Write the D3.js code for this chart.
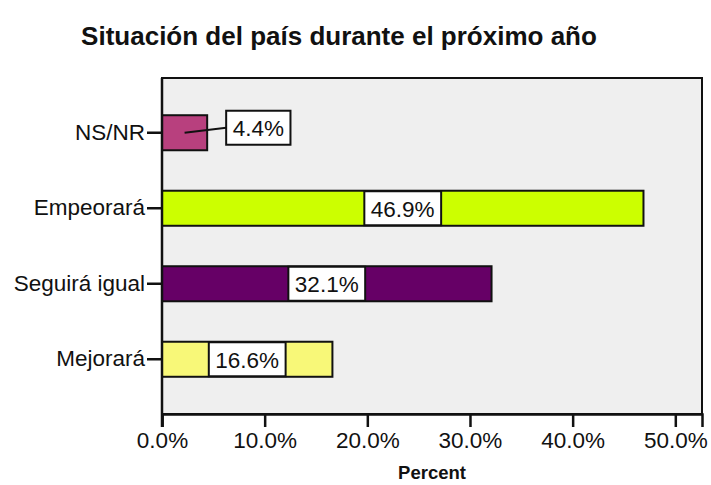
<!DOCTYPE html>
<html><head><meta charset="utf-8">
<script src="https://cdn.jsdelivr.net/npm/d3@7"></script>
<style>body{margin:0;background:#fff;} svg{display:block;font-family:"Liberation Sans",Arial,sans-serif;}</style>
</head><body>
<svg id="c" width="711" height="485"></svg>
<script>
const categories = ["NS/NR", "Empeorará", "Seguirá igual", "Mejorará"];
const values = [4.4, 46.9, 32.1, 16.6];
const colors = ["#b8407e", "#ccff00", "#660066", "#f8f878"];
const tickValues = [0, 10, 20, 30, 40, 50];
const title = "Situación del país durante el próximo año";
const xTitle = "Percent";

const FS = 22.5;
const svg = d3.select("#c");
const L = 162, R = 702, T = 78, B = 414;
const x = d3.scaleLinear().domain([0, 52.6]).range([L, R]);
const y = d3.scaleBand().domain(categories).range([T, B]).paddingInner(0.536).paddingOuter(0.493);

svg.append("rect").attr("x", L).attr("y", T).attr("width", R - L).attr("height", B - T)
  .attr("fill", "#efefef").attr("stroke", "#111").attr("stroke-width", 2);

// bars
svg.selectAll(".bar").data(values).join("rect")
  .attr("x", x(0)).attr("y", (d, i) => y(categories[i]))
  .attr("width", d => x(d) - x(0)).attr("height", y.bandwidth())
  .attr("fill", (d, i) => colors[i]).attr("stroke", "#111").attr("stroke-width", 2);

// x axis
const xa = svg.append("g").attr("transform", `translate(0,${B})`)
  .call(d3.axisBottom(x).tickValues(tickValues).tickSize(13).tickPadding(5).tickFormat(d => d.toFixed(1) + "%"));
xa.select(".domain").attr("stroke", "#111").attr("stroke-width", 2.5);
xa.selectAll(".tick line").attr("stroke", "#111").attr("stroke-width", 2.5);
xa.selectAll(".tick text").attr("font-size", FS).attr("fill", "#111").attr("font-family", "Liberation Sans, Arial, sans-serif");

// y axis
const ya = svg.append("g").attr("transform", `translate(${L},0)`)
  .call(d3.axisLeft(y).tickSize(15).tickPadding(2));
ya.select(".domain").attr("d", `M0,${T}V${B + 13}`).attr("stroke", "#111").attr("stroke-width", 2.5);
ya.selectAll(".tick line").attr("stroke", "#111").attr("stroke-width", 2.5);
ya.selectAll(".tick text").attr("font-size", FS).attr("fill", "#111").attr("font-family", "Liberation Sans, Arial, sans-serif");

// value labels
values.forEach((v, i) => {
  const g = svg.append("g");
  const t = g.append("text").text(v.toFixed(1) + "%").attr("font-size", FS).attr("fill", "#111")
    .attr("text-anchor", "middle").attr("dominant-baseline", "central");
  const w = t.node().getComputedTextLength() + 13;
  const h = 34;
  const barW = x(v) - x(0);
  const cy = y(categories[i]) + y.bandwidth() / 2;
  let cx, by;
  if (barW > w + 10) {
    cx = (x(0) + x(v)) / 2; by = cy;
  } else {
    const left = x(v) + 19;
    cx = left + w / 2; by = cy - 5;
    svg.insert("line", "g").attr("x1", (x(0) + x(v)) / 2).attr("y1", cy).attr("x2", left).attr("y2", by)
      .attr("stroke", "#111").attr("stroke-width", 2);
  }
  g.insert("rect", "text").attr("x", cx - w / 2).attr("y", by - h / 2).attr("width", w).attr("height", h)
    .attr("fill", "#fff").attr("stroke", "#111").attr("stroke-width", 2);
  t.attr("x", cx).attr("y", by + 1);
});

svg.append("text").attr("x", 339).attr("y", 45).attr("text-anchor", "middle")
  .attr("font-size", 26).attr("font-weight", "bold").attr("fill", "#111").text(title);
svg.append("text").attr("x", 432).attr("y", 479).attr("text-anchor", "middle")
  .attr("font-size", 18.5).attr("font-weight", "bold").attr("fill", "#111").text(xTitle);
</script>
</body></html>
